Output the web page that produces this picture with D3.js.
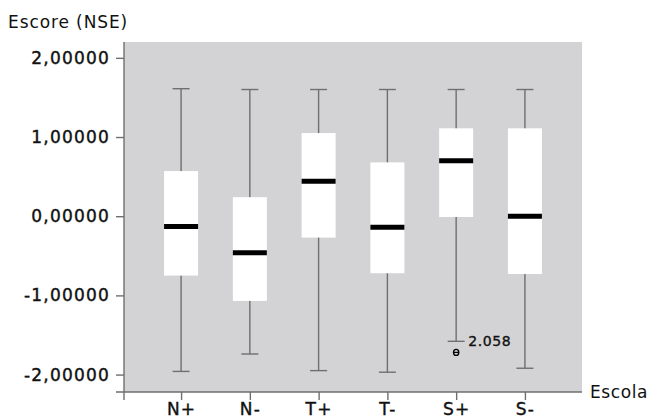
<!DOCTYPE html>
<html>
<head>
<meta charset="utf-8">
<script src="https://cdn.jsdelivr.net/npm/d3@7"></script>
<style>
  body { margin: 0; background: #fff; }
  text { font-family: "DejaVu Sans", sans-serif; fill: #111; }
</style>
</head>
<body>
<div id="chart"></div>
<script>
// data
var escolas = ["N+", "N-", "T+", "T-", "S+", "S-"];
var minimo  = [-1.96, -1.74, -1.95, -1.97, -1.58, -1.92];
var q1      = [-0.75, -1.07, -0.27, -0.72, -0.01, -0.73];
var mediana = [-0.13, -0.46, 0.44, -0.14, 0.70, 0.00];
var q3      = [0.57, 0.24, 1.05, 0.68, 1.11, 1.11];
var maximo  = [1.61, 1.60, 1.60, 1.60, 1.60, 1.60];
var outliers = [{ escola: "S+", valor: -1.72, caso: "2.058" }];
var yTicks = [-2, -1, 0, 1, 2];

var svgWidth = 651;
var svgHeight = 420;
var margin = { top: 42, right: 69, bottom: 28, left: 124 };
var width = svgWidth - margin.left - margin.right;
var height = svgHeight - margin.top - margin.bottom;

var svg = d3.select("#chart")
  .append("svg")
  .attr("width", svgWidth)
  .attr("height", svgHeight);

var chartGroup = svg.append("g")
  .attr("transform", `translate(${margin.left}, ${margin.top})`);

var xScale = d3.scalePoint()
  .domain(escolas)
  .range([0, width])
  .padding(0.83);

var yScale = d3.scaleLinear()
  .domain([-2.22, 2.2])
  .range([height, 0]);

// gray plot area
chartGroup.append("rect")
  .attr("width", width)
  .attr("height", height)
  .attr("fill", "#d3d3d5");

var boxes = escolas.map(function(e, i) {
  return { escola: e, min: minimo[i], q1: q1[i], med: mediana[i], q3: q3[i], max: maximo[i] };
});

var boxW = 34;
var capW = 17;
var lineColor = "#6f6f6f";

var g = chartGroup.selectAll(".box")
  .data(boxes)
  .enter()
  .append("g")
  .attr("transform", d => `translate(${xScale(d.escola)}, 0)`);

// whiskers
g.append("line")
  .attr("x1", 0).attr("x2", 0)
  .attr("y1", d => yScale(d.max))
  .attr("y2", d => yScale(d.min))
  .attr("stroke", lineColor)
  .attr("stroke-width", 1.4);

g.append("line")
  .attr("x1", -capW / 2).attr("x2", capW / 2)
  .attr("y1", d => yScale(d.max)).attr("y2", d => yScale(d.max))
  .attr("stroke", lineColor)
  .attr("stroke-width", 1.4);

g.append("line")
  .attr("x1", -capW / 2).attr("x2", capW / 2)
  .attr("y1", d => yScale(d.min)).attr("y2", d => yScale(d.min))
  .attr("stroke", lineColor)
  .attr("stroke-width", 1.4);

// boxes
g.append("rect")
  .attr("x", -boxW / 2)
  .attr("width", boxW)
  .attr("y", d => yScale(d.q3))
  .attr("height", d => yScale(d.q1) - yScale(d.q3))
  .attr("fill", "#fff");

// median
g.append("line")
  .attr("x1", -boxW / 2).attr("x2", boxW / 2)
  .attr("y1", d => yScale(d.med)).attr("y2", d => yScale(d.med))
  .attr("stroke", "#000")
  .attr("stroke-width", 5);

// outliers
var og = chartGroup.selectAll(".outlier")
  .data(outliers)
  .enter()
  .append("g")
  .attr("transform", d => `translate(${xScale(d.escola)}, ${yScale(d.valor)})`);

og.append("ellipse")
  .attr("rx", 2.6).attr("ry", 3)
  .attr("fill", "none")
  .attr("stroke", "#000")
  .attr("stroke-width", 1.4);

og.append("line")
  .attr("x1", -2.4).attr("x2", 2.4)
  .attr("stroke", "#000")
  .attr("stroke-width", 1.2);

og.append("text")
  .attr("x", 12)
  .attr("y", -6)
  .attr("font-size", "14px")
  .attr("letter-spacing", "0.6px")
  .attr("stroke", "#111")
  .attr("stroke-width", 0.35)
  .text(d => d.caso);

// axes
var leftAxis = d3.axisLeft(yScale)
  .tickValues(yTicks)
  .tickSize(8)
  .tickPadding(6)
  .tickFormat(d => d3.format(".5f")(d).replace(".", ",").replace("−", "-"));

var bottomAxis = d3.axisBottom(xScale)
  .tickSize(8)
  .tickPadding(3);

var yAxisG = chartGroup.append("g").call(leftAxis);
var xAxisG = chartGroup.append("g")
  .attr("transform", `translate(0, ${height})`)
  .call(bottomAxis);

[yAxisG, xAxisG].forEach(function(a) {
  a.select(".domain").remove();
  a.selectAll(".tick line").attr("stroke", lineColor).attr("stroke-width", 1.4);
  a.selectAll(".tick text")
    .attr("fill", "#111")
    .attr("stroke", "#111")
    .attr("stroke-width", 0.4)
    .attr("font-size", "17px")
    .attr("letter-spacing", "1.2px")
    .attr("font-family", "'DejaVu Sans', sans-serif");
});

// axis lines crossing at the corner
chartGroup.append("line")
  .attr("x1", 0).attr("x2", 0)
  .attr("y1", 0).attr("y2", height + 8)
  .attr("stroke", lineColor)
  .attr("stroke-width", 1.4);

chartGroup.append("line")
  .attr("x1", -8).attr("x2", width)
  .attr("y1", height).attr("y2", height)
  .attr("stroke", lineColor)
  .attr("stroke-width", 1.4);

// axis titles
svg.append("text")
  .attr("x", 8)
  .attr("y", 28)
  .attr("font-size", "17px")
  .attr("letter-spacing", "0.9px")
  .text("Escore (NSE)");

svg.append("text")
  .attr("x", margin.left + width + 8)
  .attr("y", margin.top + height + 6)
  .attr("font-size", "17px")
  .attr("letter-spacing", "0.6px")
  .text("Escola");
</script>
</body>
</html>
